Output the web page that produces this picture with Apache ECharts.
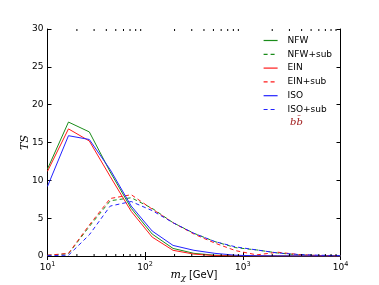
<!DOCTYPE html>
<html><head><meta charset="utf-8">
<script src="https://cdn.jsdelivr.net/npm/echarts@6/dist/echarts.min.js"></script>
<style>html,body{margin:0;padding:0;background:#fff}#c{width:379px;height:285px}</style>
</head><body><div id="c"></div>
<script>
const masses = [10, 16.4, 26.8, 43.9, 72, 118, 193, 316, 518, 848, 1389, 2276, 3728, 6105, 10000];
const nfw    = [11.5, 17.7, 16.4, 11.1, 6.3, 2.9, 1.0, 0.35, 0.1, 0.03, 0.01, 0, 0, 0, 0];
const ein    = [11.2, 16.8, 15.2, 10.5, 5.9, 2.5, 0.75, 0.25, 0.05, 0.01, 0, 0, 0, 0, 0];
const iso    = [9.2, 15.9, 15.4, 11.4, 6.6, 3.3, 1.4, 0.75, 0.35, 0.1, 0.03, 0.01, 0, 0, 0];
const nfwSub = [0.1, 0.3, 3.9, 7.3, 7.7, 6.3, 4.4, 3.0, 1.9, 1.1, 0.8, 0.4, 0.15, 0.05, 0];
const einSub = [0.1, 0.35, 4.1, 7.6, 8.1, 6.2, 4.4, 2.9, 1.7, 0.7, 0.15, 0.5, 0.2, 0.05, 0];
const isoSub = [0.05, 0.1, 2.8, 6.6, 7.2, 6.0, 4.4, 3.0, 1.9, 1.2, 0.8, 0.4, 0.2, 0.1, 0.05];
const yTicks = [0, 5, 10, 15, 20, 25, 30];
const minorX = [20,30,40,50,60,70,80,90,200,300,400,500,600,700,800,900,2000,3000,4000,5000,6000,7000,8000,9000];
const names = ['NFW','NFW+sub','EIN','EIN+sub','ISO','ISO+sub'];

const GREEN = '#1a8c1a', RED = '#ff1a1a', BLUE = '#2222ff';
const pair = (ys) => masses.map((m, i) => [m, ys[i]]);
function line(name, ys, color, dashed) {
  return {
    name, type: 'line', data: pair(ys), symbol: 'none', showSymbol: false,
    lineStyle: { color, width: 1, type: dashed ? [4, 3] : 'solid' },
    itemStyle: { color }, z: 3
  };
}
const chart = echarts.init(document.getElementById('c'), null, { renderer: 'canvas' });
const FONT = 'DejaVu Sans';
chart.setOption({
  animation: false,
  grid: { left: 47.5, top: 29, right: 38.5, bottom: 29, containLabel: false, outerBoundsMode: 'none' },
  legend: {
    data: names, orient: 'vertical', left: 263, top: 36, padding: 0,
    itemWidth: 14, itemHeight: 8, itemGap: 4.8,
    itemStyle: { opacity: 0, borderWidth: 0 },
    lineStyle: { width: 1.2 },
    textStyle: { fontSize: 9, fontFamily: FONT, color: '#000', padding: [0, 0, 0, 5] }
  },
  xAxis: [{
    type: 'log', logBase: 10, min: 10, max: 10000, position: 'bottom',
    axisLine: { lineStyle: { color: '#000', width: 1 } },
    axisTick: { inside: true, length: 4, lineStyle: { color: '#000' } },
    splitLine: { show: false },
    axisLabel: {
      margin: 5, color: '#000',
      formatter: v => '{b|10}{s|' + Math.round(Math.log10(v)) + '}',
      rich: { b: { fontSize: 9, fontFamily: FONT, color: '#000' },
              s: { fontSize: 6.5, fontFamily: FONT, color: '#000', padding: [0, 0, 6, 0] } }
    },
    name: '{it|m}{sub|χ}{n| [GeV]}', nameLocation: 'middle', nameGap: 14, nameMoveOverlap: false,
    nameTextStyle: {
      rich: { it: { fontSize: 11, fontStyle: 'italic', fontFamily: 'DejaVu Serif', color: '#000' },
              sub: { fontSize: 8, fontStyle: 'italic', fontFamily: 'DejaVu Serif', color: '#000', padding: [0, 0, -4, 0] },
              n: { fontSize: 10, fontFamily: FONT, color: '#000' } }
    }
  }, {
    type: 'log', logBase: 10, min: 10, max: 10000, position: 'top',
    axisLine: { lineStyle: { color: '#000', width: 1 } },
    axisTick: { inside: true, length: 4, lineStyle: { color: '#000' } },
    axisLabel: { show: false }, splitLine: { show: false }
  }],
  yAxis: [{
    type: 'value', min: 0, max: 30, interval: 5, position: 'left',
    axisLine: { show: true, lineStyle: { color: '#000', width: 1 } },
    axisTick: { show: true, inside: true, length: 4, lineStyle: { color: '#000' } },
    splitLine: { show: false },
    axisLabel: { fontSize: 9, fontFamily: FONT, color: '#000', margin: 4 },
    name: 'TS', nameLocation: 'middle', nameGap: 17, nameMoveOverlap: false,
    nameTextStyle: { fontSize: 11, fontStyle: 'italic', fontFamily: 'DejaVu Serif', color: '#000' }
  }, {
    type: 'value', min: 0, max: 30, interval: 5, position: 'right',
    axisLine: { show: true, lineStyle: { color: '#000', width: 1 } },
    axisTick: { show: true, inside: true, length: 4, lineStyle: { color: '#000' } },
    axisLabel: { show: false }, splitLine: { show: false }
  }],
  graphic: [{
    type: 'text', left: 290, top: 117,
    style: { text: 'bb\u0304', fontSize: 10, fontStyle: 'italic', fontFamily: 'DejaVu Serif', fill: '#9b1010' }
  }],
  series: [
    line('NFW', nfw, GREEN, false),
    line('NFW+sub', nfwSub, GREEN, true),
    line('EIN', ein, RED, false),
    line('EIN+sub', einSub, RED, true),
    line('ISO', iso, BLUE, false),
    line('ISO+sub', isoSub, BLUE, true),
    {
      type: 'custom', name: 'minor', silent: true, z: 5,
      data: minorX.map(v => [v]),
      encode: { x: 0 },
      renderItem: (params, api) => {
        const x = api.coord([api.value(0), 0])[0];
        const yb = api.coord([10, 0])[1];
        const yt = api.coord([10, 30])[1];
        const st = { stroke: '#000', lineWidth: 1 };
        return { type: 'group', children: [
          { type: 'line', shape: { x1: x, y1: yb, x2: x, y2: yb - 2 }, style: st },
          { type: 'line', shape: { x1: x, y1: yt, x2: x, y2: yt + 2 }, style: st }
        ] };
      }
    }
  ]
});
</script></body></html>
